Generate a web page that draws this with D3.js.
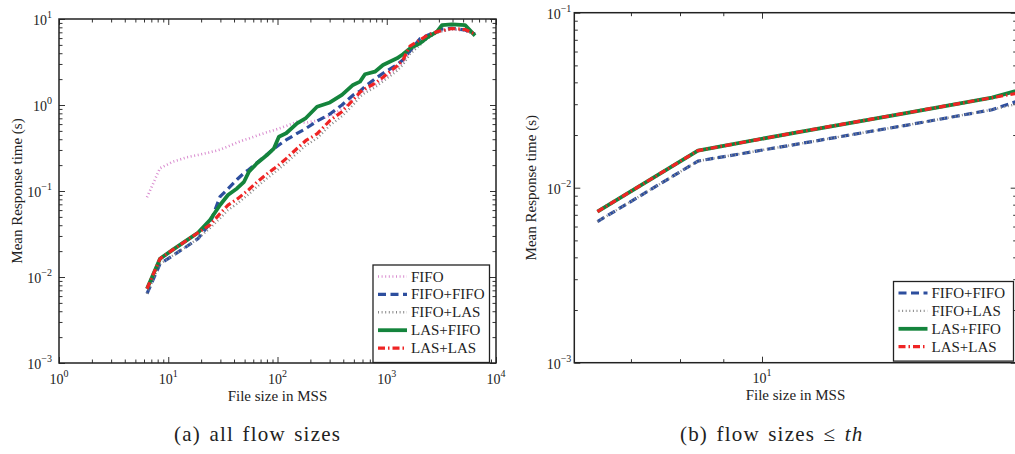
<!DOCTYPE html>
<html>
<head>
<meta charset="utf-8">
<script src="https://cdn.jsdelivr.net/npm/d3@7"></script>
<style>
  body { margin: 0; background: #fff; }
  svg { display: block; font-family: "Liberation Serif", "Times New Roman", serif; }
</style>
</head>
<body>
<div id="chart"></div>
<script>
// Data (file size in MSS, mean response time in s)
const sizes = [6.39, 8.40, 11.05, 14.85, 18.7, 24.1, 29.8, 35.2, 42.6, 49.4, 54.8, 64.9, 80.1, 92.9, 103, 120,
  151, 182, 230, 302, 389, 491, 569, 632, 780, 924, 1241, 1408, 1633, 2015, 2336, 2884, 3204, 3957, 5203, 6423];

const fifo = [0.0845, 0.184, 0.219, 0.247, 0.262, 0.282, 0.303, 0.329, 0.366, 0.392, 0.408, 0.441, 0.482, 0.509, 0.533, 0.570,
  0.640, 0.62, 0.66, 0.75, 0.9, 1.15, 1.35, 1.48, 1.72, 2.0, 2.7, 3.15, 4.2, 5.3, 6.1, 7.0, 7.3, 7.6, 7.3, 6.6];
const fifoFifo = [0.0064, 0.0142, 0.0178, 0.0228, 0.0279, 0.042, 0.086, 0.106, 0.136, 0.162, 0.178, 0.213, 0.265, 0.310, 0.343, 0.392,
  0.467, 0.533, 0.649, 0.786, 1.00, 1.30, 1.45, 1.64, 2.01, 2.34, 2.94, 3.36, 4.25, 5.90, 6.43, 7.13, 7.65, 7.80, 7.45, 6.69];
const fifoLas = [0.0064, 0.0142, 0.0178, 0.0228, 0.0279, 0.037, 0.048, 0.060, 0.071, 0.083, 0.092, 0.112, 0.140, 0.162, 0.180, 0.212,
  0.275, 0.34, 0.41, 0.58, 0.74, 1.0, 1.25, 1.38, 1.6, 1.88, 2.5, 2.95, 3.9, 5.0, 5.9, 6.9, 7.2, 7.6, 7.4, 6.6];
const lasFifo = [0.0073, 0.0163, 0.0208, 0.0268, 0.0327, 0.046, 0.0687, 0.0898, 0.107, 0.128, 0.168, 0.210, 0.262, 0.314, 0.428, 0.469,
  0.612, 0.706, 0.955, 1.07, 1.31, 1.71, 1.87, 2.28, 2.44, 2.92, 3.49, 3.89, 4.56, 5.22, 6.06, 7.12, 8.51, 8.67, 8.51, 6.40];
const lasLas = [0.0073, 0.0163, 0.0208, 0.0268, 0.0327, 0.0403, 0.0546, 0.0684, 0.0803, 0.0935, 0.104, 0.127, 0.158, 0.182, 0.202, 0.238,
  0.312, 0.387, 0.461, 0.660, 0.836, 1.14, 1.41, 1.54, 1.79, 2.10, 2.84, 3.34, 4.85, 5.73, 6.43, 7.12, 7.33, 7.76, 7.55, 6.69];

const seriesNames = ["FIFO", "FIFO+FIFO", "FIFO+LAS", "LAS+FIFO", "LAS+LAS"];
const seriesValues = [fifo, fifoFifo, fifoLas, lasFifo, lasLas];

// Tick exponents for each panel
const leftXExp = [0, 1, 2, 3, 4];
const leftYExp = [-3, -2, -1, 0, 1];
const rightXExp = [1];
const rightYExp = [-3, -2, -1];

// Line styles (MATLAB look)
const styles = {
  "FIFO":      { color: "#d98ccf", width: 2.6, dash: "1,2.6" },
  "FIFO+FIFO": { color: "#2d4e9e", width: 3.2, dash: "8,4.5" },
  "FIFO+LAS":  { color: "#8a8a8a", width: 2.4, dash: "1,2.6" },
  "LAS+FIFO":  { color: "#14843c", width: 3.8, dash: null },
  "LAS+LAS":   { color: "#ef2424", width: 3.2, dash: "7,3,1.5,3" }
};

const width = 1015, height = 454;
const svg = d3.select("#chart").append("svg")
  .attr("width", width)
  .attr("height", height);

svg.append("rect").attr("width", width).attr("height", height).attr("fill", "#fff");

function minorTicks(lo, hi) {
  const out = [];
  for (let e = Math.floor(Math.log10(lo)); e <= Math.ceil(Math.log10(hi)); e++) {
    for (let m = 2; m <= 9; m++) {
      const v = m * Math.pow(10, e);
      if (v > lo * 1.0001 && v < hi * 0.9999) out.push(v);
    }
  }
  return out;
}

function powLabel(sel, exp, anchor) {
  const e = exp < 0 ? "\u2212" + Math.abs(exp) : String(exp);
  sel.attr("text-anchor", anchor);
  sel.append("tspan").text("10");
  sel.append("tspan").attr("dy", -7).style("font-size", "10px").text(e);
}

function panel(opts) {
  const { id, left, right, top, bottom, xDomain, yDomain, xExp, yExp, names, legend, ylabelX, yGap } = opts;
  const w = right - left, h = bottom - top;
  const x = d3.scaleLog().domain(xDomain).range([0, w]);
  const y = d3.scaleLog().domain(yDomain).range([h, 0]);

  const g = svg.append("g").attr("transform", `translate(${left},${top})`);

  g.append("clipPath").attr("id", "clip-" + id)
    .append("rect").attr("width", w).attr("height", h);

  const xMaj = xExp.map(e => Math.pow(10, e));
  const yMaj = yExp.map(e => Math.pow(10, e));
  const xMin = minorTicks(xDomain[0], xDomain[1]);
  const yMin = minorTicks(yDomain[0], yDomain[1]);

  // Inward ticks on all four sides
  const tickStyle = s => {
    s.select(".domain").remove();
    s.selectAll(".tick line").attr("stroke", "#333").attr("stroke-width", 1);
  };
  g.append("g").attr("transform", `translate(0,${h})`)
    .call(d3.axisBottom(x).tickValues(xMaj).tickSize(-6).tickFormat("")).call(tickStyle);
  g.append("g").attr("transform", `translate(0,${h})`)
    .call(d3.axisBottom(x).tickValues(xMin).tickSize(-3.5).tickFormat("")).call(tickStyle);
  g.append("g")
    .call(d3.axisTop(x).tickValues(xMaj).tickSize(-6).tickFormat("")).call(tickStyle);
  g.append("g")
    .call(d3.axisTop(x).tickValues(xMin).tickSize(-3.5).tickFormat("")).call(tickStyle);
  g.append("g")
    .call(d3.axisLeft(y).tickValues(yMaj).tickSize(-6).tickFormat("")).call(tickStyle);
  g.append("g")
    .call(d3.axisLeft(y).tickValues(yMin).tickSize(-3.5).tickFormat("")).call(tickStyle);
  g.append("g").attr("transform", `translate(${w},0)`)
    .call(d3.axisRight(y).tickValues(yMaj).tickSize(-6).tickFormat("")).call(tickStyle);
  g.append("g").attr("transform", `translate(${w},0)`)
    .call(d3.axisRight(y).tickValues(yMin).tickSize(-3.5).tickFormat("")).call(tickStyle);

  // Tick labels
  xExp.forEach(e => {
    g.append("text")
      .attr("x", x(Math.pow(10, e)))
      .attr("y", h + 20.5)
      .style("font-size", "14px")
      .attr("fill", "#222")
      .call(powLabel, e, "middle");
  });
  yExp.forEach(e => {
    g.append("text")
      .attr("x", -yGap)
      .attr("y", y(Math.pow(10, e)) + 6)
      .style("font-size", "14px")
      .attr("fill", "#222")
      .call(powLabel, e, "end");
  });

  // Series
  const line = d3.line()
    .x((d, i) => x(sizes[i]))
    .y(d => y(d));
  const lines = g.append("g").attr("clip-path", `url(#clip-${id})`);
  names.forEach(name => {
    const st = styles[name];
    const vals = seriesValues[seriesNames.indexOf(name)];
    lines.append("path")
      .datum(vals)
      .attr("d", line)
      .attr("fill", "none")
      .attr("stroke", st.color)
      .attr("stroke-width", st.width)
      .attr("stroke-dasharray", st.dash)
      .attr("stroke-linejoin", "round");
  });

  // Plot box
  g.append("rect")
    .attr("width", w).attr("height", h)
    .attr("fill", "none")
    .attr("stroke", "#222")
    .attr("stroke-width", 1.5);

  // Axis labels
  g.append("text")
    .attr("x", w / 2).attr("y", h + 37.5)
    .attr("text-anchor", "middle")
    .style("font-size", "15px")
    .attr("fill", "#222")
    .text("File size in MSS");
  g.append("text")
    .attr("transform", `translate(${ylabelX - left},${h / 2}) rotate(-90)`)
    .attr("text-anchor", "middle")
    .style("font-size", "15px")
    .attr("fill", "#222")
    .text("Mean Response time (s)");

  // Legend
  const lg = g.append("g").attr("transform", `translate(${legend.x - left},${legend.y - top})`);
  lg.append("rect")
    .attr("width", legend.w)
    .attr("height", names.length * 17.9 + 8)
    .attr("fill", "#fff")
    .attr("stroke", "#222")
    .attr("stroke-width", 1.3);
  names.forEach((name, i) => {
    const st = styles[name];
    const cy = 11.5 + i * 17.9;
    lg.append("line")
      .attr("x1", 5).attr("x2", 34)
      .attr("y1", cy).attr("y2", cy)
      .attr("stroke", st.color)
      .attr("stroke-width", st.width)
      .attr("stroke-dasharray", st.dash);
    lg.append("text")
      .attr("x", 38).attr("y", cy + 5)
      .style("font-size", "15px")
      .attr("fill", "#222")
      .text(name);
  });
}

panel({
  id: "a", left: 59, right: 496, top: 19, bottom: 363,
  xDomain: [1, 1e4], yDomain: [1e-3, 10],
  xExp: leftXExp, yExp: leftYExp,
  names: seriesNames,
  legend: { x: 373, y: 265, w: 116.5 },
  ylabelX: 22, yGap: 7
});

panel({
  id: "b", left: 574.3, right: 1016.7, top: 12.7, bottom: 362.7,
  xDomain: [6, 20], yDomain: [1e-3, 1e-1],
  xExp: rightXExp, yExp: rightYExp,
  names: seriesNames.slice(1),
  legend: { x: 893.5, y: 281.5, w: 120 },
  ylabelX: 536, yGap: 3
});

// Sub-captions
svg.append("text")
  .attr("x", 257.6).attr("y", 441)
  .attr("text-anchor", "middle")
  .style("font-size", "21px")
  .style("letter-spacing", "1.2px")
  .style("word-spacing", "2px")
  .attr("fill", "#222")
  .text("(a)  all flow sizes");

const cap = svg.append("text")
  .attr("x", 771.7).attr("y", 441)
  .attr("text-anchor", "middle")
  .style("font-size", "21px")
  .style("letter-spacing", "1.2px")
  .style("word-spacing", "2px")
  .attr("fill", "#222");
cap.append("tspan").text("(b)  flow sizes \u2264 ");
cap.append("tspan").style("font-style", "italic").text("th");
</script>
</body>
</html>
